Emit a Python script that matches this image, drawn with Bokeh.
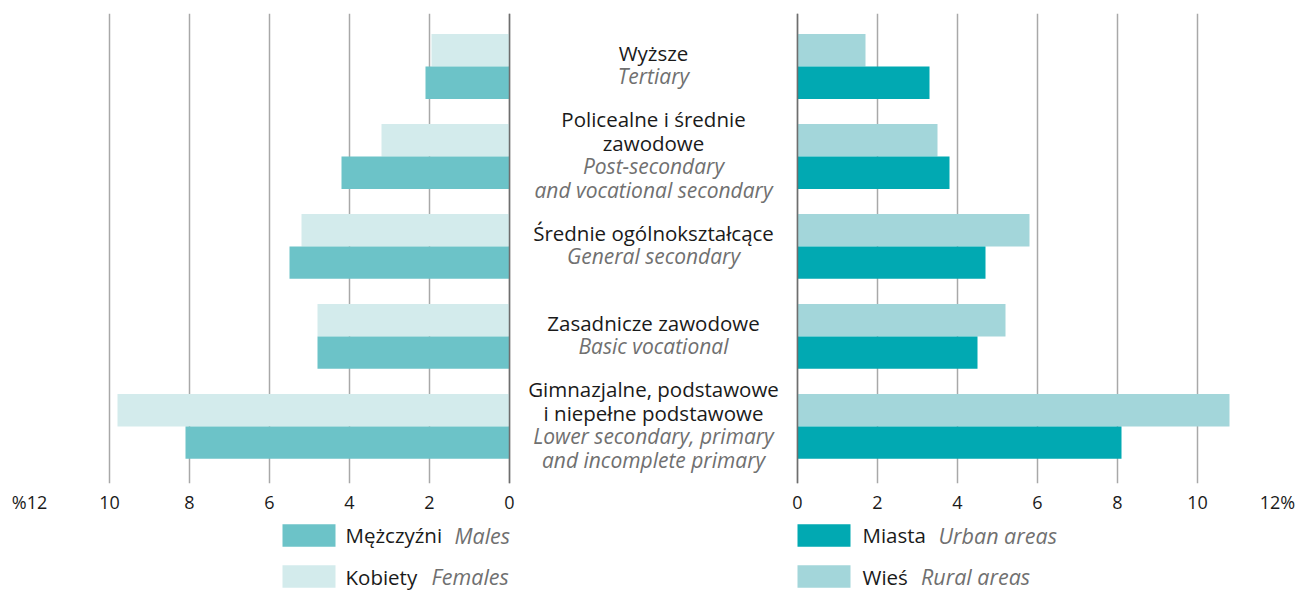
from bokeh.plotting import figure
from bokeh.models import Range1d, FixedTicker, ColumnDataSource, Span
from bokeh.layouts import column
from bokeh.embed import file_html
from bokeh.resources import INLINE
from bokeh.core.properties import value
import numpy as np

# ---------------- data ----------------
categories_pl = ["Wyższe",
                 "Policealne i średnie\nzawodowe",
                 "Średnie ogólnokształcące",
                 "Zasadnicze zawodowe",
                 "Gimnazjalne, podstawowe\ni niepełne podstawowe"]
categories_en = ["Tertiary",
                 "Post-secondary\nand vocational secondary",
                 "General secondary",
                 "Basic vocational",
                 "Lower secondary, primary\nand incomplete primary"]
males = [2.1, 4.2, 5.5, 4.8, 8.1]
females = [1.95, 3.2, 5.2, 4.8, 9.8]
urban = [3.3, 3.8, 4.7, 4.5, 8.1]
rural = [1.7, 3.5, 5.8, 5.2, 10.8]
tick_values = [0, 2, 4, 6, 8, 10, 12]
left_tick_labels = ["0", "2", "4", "6", "8", "10", "%12"]
right_tick_labels = ["0", "2", "4", "6", "8", "10", "12%"]
legend_pl = ["Mężczyźni", "Kobiety", "Miasta", "Wieś"]
legend_en = ["Males", "Females", "Urban areas", "Rural areas"]

# ---------------- style ----------------
C_MALE, C_FEMALE = "#6cc3c8", "#d3ebec"
C_URBAN, C_RURAL = "#01a9b2", "#a3d6da"
C_TEXT, C_EN = "#1a1a1a", "#707070"
FONT = "Open Sans"
W, H1, H2 = 1296, 516, 76
PX = 40.0                 # pixels per percentage point
GAP = 7.2                 # gap between the two panels (data units)
XMAX = 12
BORDER_L = 29
BORDER_R = W - BORDER_L - int(round((2 * XMAX + GAP) * PX))
BAR_H = 0.36
ROW_PX = 89.1

n = len(categories_pl)
idx = np.arange(n)

x_range = Range1d(-XMAX, XMAX + GAP)
y_range = Range1d(n - 1 + 0.634, -0.589)

p = figure(width=W, height=H1, x_range=x_range, y_range=y_range,
           output_backend="svg", toolbar_location=None,
           y_axis_location=None, min_border_left=BORDER_L,
           min_border_right=BORDER_R, min_border_top=13, min_border_bottom=10)
p.outline_line_color = None
p.ygrid.visible = False

left_ticks = [-t for t in tick_values]
right_ticks = [GAP + t for t in tick_values]
all_ticks = left_ticks + right_ticks
overrides = {}
for t, lab in zip(left_ticks, left_tick_labels):
    overrides[t] = lab
for t, lab in zip(right_ticks, right_tick_labels):
    overrides[t] = lab
p.xaxis.ticker = FixedTicker(ticks=all_ticks)
p.xaxis.major_label_overrides = overrides
p.xaxis.axis_line_color = None
p.xaxis.major_tick_line_color = None
p.xaxis.minor_tick_line_color = None
p.xaxis.major_tick_out = 0
p.xaxis.major_tick_in = 0
p.xaxis.major_label_standoff = 6
p.xaxis.major_label_text_font = FONT
p.xaxis.major_label_text_font_size = "18px"
p.xaxis.major_label_text_color = C_TEXT
p.xgrid.ticker = FixedTicker(ticks=all_ticks)
p.xgrid.grid_line_color = "#a8a8a8"
p.xgrid.grid_line_width = 1.5

src = ColumnDataSource(dict(
    y_f=idx - BAR_H / 2, y_m=idx + BAR_H / 2,
    male_l=-np.array(males), female_l=-np.array(females),
    urban_r=GAP + np.array(urban), rural_r=GAP + np.array(rural),
))
p.hbar(y="y_f", left="female_l", right=0, height=BAR_H, source=src,
       fill_color=C_FEMALE, line_color=None)
p.hbar(y="y_m", left="male_l", right=0, height=BAR_H, source=src,
       fill_color=C_MALE, line_color=None)
p.hbar(y="y_f", left=GAP, right="rural_r", height=BAR_H, source=src,
       fill_color=C_RURAL, line_color=None)
p.hbar(y="y_m", left=GAP, right="urban_r", height=BAR_H, source=src,
       fill_color=C_URBAN, line_color=None)

for loc in (0, GAP):
    p.add_layout(Span(location=loc, dimension="height",
                      line_color="#6e6e6e", line_width=1.5))

# middle category labels
LINE = 23.2 / ROW_PX
pl_x, pl_y, pl_t, en_x, en_y, en_t = [], [], [], [], [], []
for i in range(n):
    pl = categories_pl[i].split("\n")
    en = categories_en[i].split("\n")
    N = len(pl) + len(en)
    for k, line in enumerate(pl + en):
        yy = i + (k - (N - 1) / 2) * LINE - 2 / ROW_PX
        if k < len(pl):
            pl_x.append(GAP / 2); pl_y.append(yy); pl_t.append(line)
        else:
            en_x.append(GAP / 2); en_y.append(yy); en_t.append(line)
p.text(x=pl_x, y=pl_y, text=pl_t, text_align="center", text_baseline="middle",
       text_font=value(FONT), text_font_size="20.5px", text_color=C_TEXT)
p.text(x=en_x, y=en_y, text=en_t, text_align="center", text_baseline="middle",
       text_font=value(FONT), text_font_size="21px", text_color=C_EN,
       text_font_style="italic")

# ---------------- legend figure ----------------
q = figure(width=W, height=H2, x_range=x_range, y_range=Range1d(1.390, -0.463),
           output_backend="svg", toolbar_location=None,
           x_axis_location=None, y_axis_location=None,
           min_border_left=BORDER_L, min_border_right=BORDER_R,
           min_border_top=0, min_border_bottom=0)
q.outline_line_color = None
q.xgrid.visible = False
q.ygrid.visible = False

SW_W, SW_H = 53, 22.5
col_left = [-227 / PX, -227 / PX, GAP, GAP]
rows = [0, 1, 0, 1]
colors = [C_MALE, C_FEMALE, C_URBAN, C_RURAL]
pl_off = [63, 63, 65, 65]
en_off = [172, 149, 141, 123.5]
q.rect(x=[c + SW_W / 2 / PX for c in col_left], y=rows, width=SW_W, height=SW_H,
       width_units="screen", height_units="screen", fill_color=colors,
       line_color=None)
q.text(x=col_left, y=rows, text=legend_pl, x_offset=pl_off,
       text_baseline="middle", text_font=value(FONT), text_font_size="20.5px",
       text_color=C_TEXT)
q.text(x=col_left, y=rows, text=legend_en, x_offset=en_off,
       text_baseline="middle", text_font=value(FONT), text_font_size="21.5px",
       text_color=C_EN, text_font_style="italic")

layout = column(p, q, spacing=0)
open("out.html", "w").write(file_html(layout, INLINE))
